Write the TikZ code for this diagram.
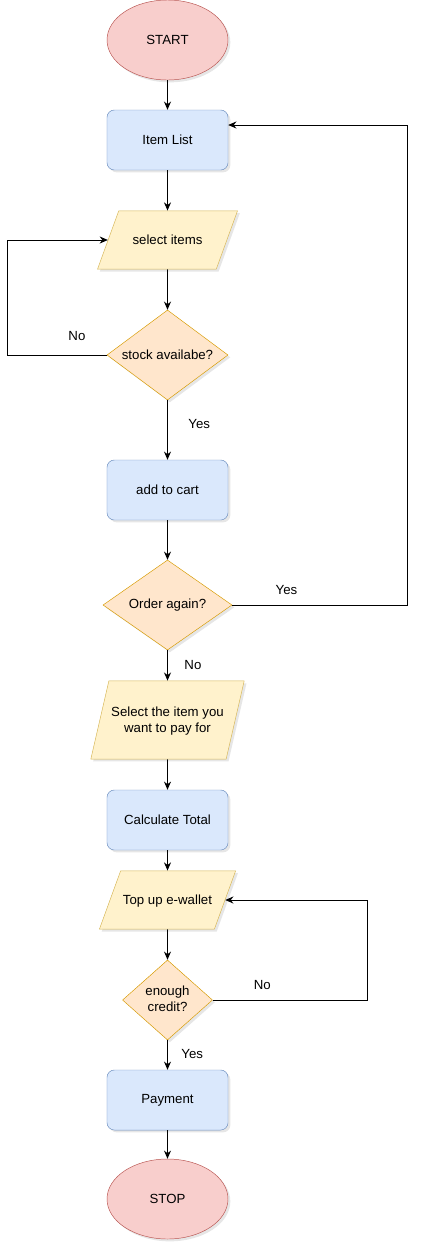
\documentclass[tikz,border=0pt]{standalone}
\usepackage{fontspec}
\setmainfont{Liberation Sans}
\usetikzlibrary{shapes.geometric, arrows.meta, shadows}
\definecolor{termfill}{HTML}{F8CECC}
\definecolor{termline}{HTML}{B85450}
\definecolor{procfill}{HTML}{DAE8FC}
\definecolor{procline}{HTML}{6C8EBF}
\definecolor{iofill}{HTML}{FFF2CC}
\definecolor{ioline}{HTML}{D6B656}
\definecolor{decfill}{HTML}{FFE6CC}
\definecolor{decline}{HTML}{D79B00}
\begin{document}
\begin{tikzpicture}[x=0.03cm, y=-0.03cm, font=\fontsize{11.3}{13.5}\selectfont]
% Estilos
\tikzset{
  shadowed/.style={drop shadow={opacity=0.2, shadow xshift=2pt, shadow yshift=-2pt}},
  terminal/.style={ellipse, draw=termline, fill=termfill, minimum width=3.63cm, minimum height=2.4cm, inner sep=0pt, shadowed},
  process/.style={rectangle, rounded corners=0.22cm, draw=procline, fill=procfill, minimum width=3.63cm, minimum height=1.8cm, shadowed},
  io/.style={trapezium, trapezium left angle=70, trapezium right angle=110, trapezium stretches body=true, draw=ioline, fill=iofill, minimum width=4.2cm, text height=0.85em, text depth=0.15em, inner xsep=2pt, inner ysep=0.7cm, align=center, shadowed},
  decision/.style={diamond, draw=decline, fill=decfill, minimum width=3.63cm, minimum height=2.7cm, inner sep=0pt, shadowed},
  flow/.style={-{Stealth[length=7pt,width=6pt]}, line width=0.8pt},
  lbl/.style={inner sep=1pt}
}
\useasboundingbox (0,0) rectangle (427,1252);

% Inicio
\node[terminal] (start) at (167.5,40) {START};

% Lista de itens
\node[process] (item) at (167.5,140) {Item List};
\node[io] (select) at (167.5,240) {select items};
\node[decision] (stock) at (167.5,355) {\makebox[0pt]{stock availabe?}};

% Carrinho
\node[process] (cart) at (167.5,490) {add to cart};
\node[decision, minimum width=3.87cm] (order) at (167.5,605) {\makebox[0pt]{Order again?}};

% Pagamento
\node[io, trapezium left angle=77, trapezium right angle=103, minimum width=4.5cm, text height=0.85em+13.5pt, inner ysep=0.76cm] (payitem) at (167.5,720) {Select the item you\\want to pay for};
\node[process] (total) at (167.5,820) {Calculate Total};
\node[io, minimum width=3.63cm] (topup) at (167.5,900) {Top up e-wallet};
\node[decision, minimum width=2.7cm, minimum height=2.4cm] (credit) at (167.5,1000) {\makebox[0pt]{\begin{tabular}{@{}c@{}}enough\\credit?\end{tabular}}};
\node[process] (pay) at (167.5,1100) {Payment};

% Fim
\node[terminal] (stop) at (167.5,1199) {STOP};

% Ligacoes
\draw[flow] (start) -- (item);
\draw[flow] (item) -- (select);
\draw[flow] (select) -- (stock);
\draw[flow] (stock) -- node[lbl, pos=0.4, right=0.58cm] {Yes} (cart);
\draw[flow] (stock.west) -- node[lbl, pos=0.3, above=0.38cm] {No} ++(-99.5,0) |- (select.west);
\draw[flow] (cart) -- (order);
\draw[flow] (order.east) -- node[lbl, pos=0.31, above=0.27cm] {Yes} ++(175,0) |- ([yshift=0.45cm]item.east);
\draw[flow] (order) -- node[lbl, pos=0.47, right=0.46cm] {No} (payitem);
\draw[flow] (payitem) -- (total);
\draw[flow] (total) -- (topup);
\draw[flow] (topup) -- (credit);
\draw[flow] (credit.east) -- node[lbl, pos=0.32, above=0.25cm] {No} ++(155,0) |- (topup.east);
\draw[flow] (credit) -- node[lbl, pos=0.47, right=0.37cm] {Yes} (pay);
\draw[flow] (pay) -- (stop);

\end{tikzpicture}
\end{document}
